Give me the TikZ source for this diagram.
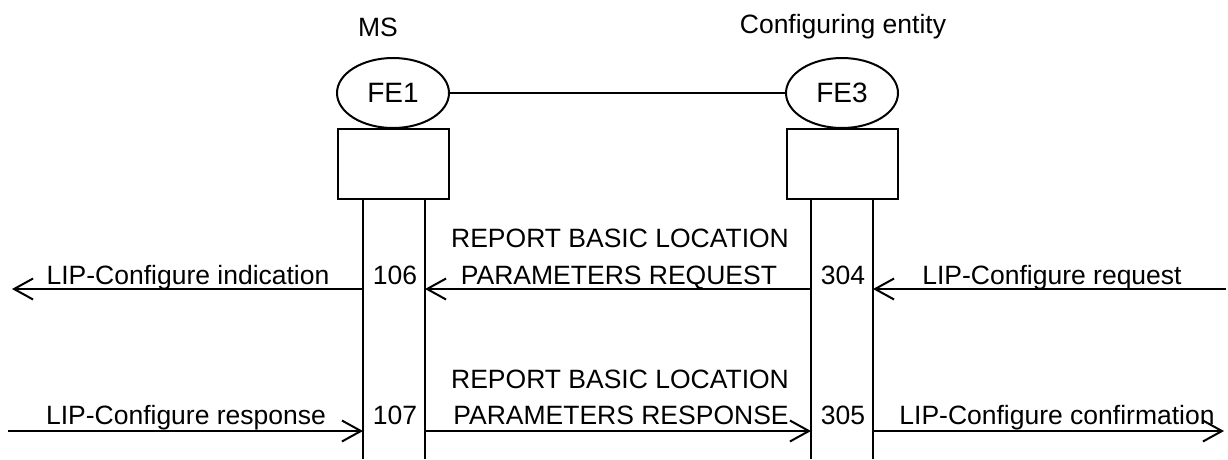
\documentclass[tikz,border=0pt]{standalone}
\usepackage{fontspec}
\setmainfont{Liberation Sans}
\usetikzlibrary{arrows.meta,shapes.geometric}
\begin{document}
\begin{tikzpicture}[x=1pt,y=-1pt,line width=2pt,
  fe/.style={draw,ellipse,minimum width=112pt,minimum height=70pt,inner sep=0pt},
  febox/.style={draw,minimum width=111pt,minimum height=70pt,inner sep=0pt},
  msg/.style={-{Straight Barb[length=19pt,width=21pt]}},
  lbl/.style={inner sep=0pt,anchor=base}]
\fontsize{26.5}{32}\selectfont
\useasboundingbox (0,0) rectangle (1228,459);

% entities
\node (ms) at (378,27) {MS};
\node (ce) at (843,27) {Configuring entity};
\node[fe] (fe1) at (393,93) {\fontsize{28}{32}\selectfont FE1};
\node[fe] (fe3) at (842,93) {\fontsize{28}{32}\selectfont FE3};
\draw (fe1) -- (fe3);
\node[febox] (box1) at (393,164) {};
\node[febox] (box3) at (842,164) {};

% lifelines
\foreach \n/\x in {a/363,b/425,c/811,d/873}{
	\draw (\x,199) -- (\x,459);
	\coordinate (\n1) at (\x,289);
	\coordinate (\n2) at (\x,431);}
\coordinate (w1) at (12,289);
\coordinate (e1) at (1226,289);
\coordinate (w2) at (8,431);
\coordinate (e2) at (1224,431);

% request
\draw[msg] (a1) -- (w1);
\draw[msg] (c1) -- (b1);
\draw[msg] (e1) -- (d1);
\node[lbl] (ind) at (188,284) {LIP-Configure indication};
\node[lbl] (n106) at (395,284) {106};
\node[lbl] (req1) at (620,247) {REPORT BASIC LOCATION};
\node[lbl] (req2) at (619,284) {PARAMETERS REQUEST};
\node[lbl] (n304) at (843,284) {304};
\node[lbl] (req) at (1052,284) {LIP-Configure request};

% response
\draw[msg] (w2) -- (a2);
\draw[msg] (b2) -- (c2);
\draw[msg] (d2) -- (e2);
\node[lbl] (resp) at (186,424) {LIP-Configure response};
\node[lbl] (n107) at (395,424) {107};
\node[lbl] (rsp1) at (620,388) {REPORT BASIC LOCATION};
\node[lbl] (rsp2) at (621,424) {PARAMETERS RESPONSE};
\node[lbl] (n305) at (843,424) {305};
\node[lbl] (conf) at (1057,424) {LIP-Configure confirmation};

\end{tikzpicture}
\end{document}
